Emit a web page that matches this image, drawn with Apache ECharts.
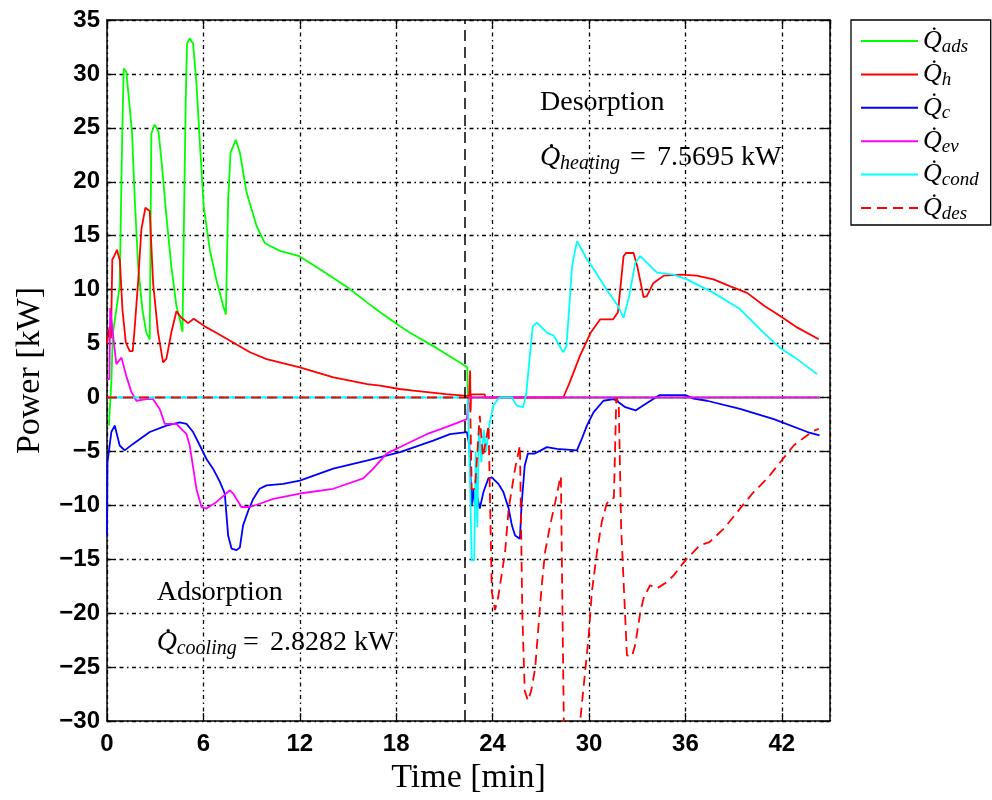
<!DOCTYPE html>
<html>
<head>
<meta charset="utf-8">
<script src="https://cdn.jsdelivr.net/npm/echarts@6/dist/echarts.min.js"></script>
<style>
  html, body { margin: 0; padding: 0; background: #fff; }
  #chart { width: 992px; height: 800px; }
</style>
</head>
<body>
<div id="chart"></div>
<script>
// Axis ranges (time in min, power in kW)
const timeRange = [0, 45];
const timeStep = 6;
const powerRange = [-30, 35];
const powerStep = 5;

// Switch from adsorption to desorption [min]
const switchTime = 22.25;

// Phase results
const coolingPower = '2.8282 kW';
const heatingPower = '7.5695 kW';

// Series names (subscripts of Q)
const seriesNames = ['ads', 'h', 'c', 'ev', 'cond', 'des'];

// Q_ads  [time, kW]
const qAds = [[0.12,-2.6],[0.2,-2.6],[0.27,1.4],[0.37,6.0],[0.48,6.0],[0.79,10.3],[0.94,23.9],[1.04,30.5],[1.2,30.2],[1.37,27.6],[1.56,24.5],[1.73,18.3],[1.94,12.2],[2.2,8.2],[2.45,6.0],[2.66,5.4],[2.76,24.5],[2.97,25.3],[3.2,24.7],[3.39,22.0],[3.7,16.8],[4.0,12.2],[4.32,8.5],[4.53,7.25],[4.7,6.1],[4.78,15.3],[4.9,27.6],[4.98,32.8],[5.15,33.3],[5.36,32.8],[5.57,29.1],[5.78,23.6],[6.02,17.7],[6.4,13.7],[6.8,10.95],[7.23,8.5],[7.4,7.7],[7.54,18.3],[7.69,22.7],[8.02,23.9],[8.27,22.7],[8.69,19.0],[9.31,15.9],[9.83,14.3],[10.76,13.6],[11.96,13.1],[13.25,11.9],[14.9,10.3],[16.2,8.8],[17.0,7.9],[18.24,6.6],[18.86,6.0],[20.5,4.6],[22.43,2.8],[22.47,0.0],[44.35,0.0]];

// Q_h
const qH = [[0,5.0],[0.15,6.5],[0.25,5.5],[0.33,12.8],[0.45,13.1],[0.62,13.7],[0.8,12.7],[0.96,8.2],[1.17,5.1],[1.41,4.3],[1.6,4.3],[1.7,6.0],[1.93,10.6],[2.14,15.6],[2.39,17.6],[2.66,17.3],[2.87,10.6],[3.18,6.0],[3.49,3.25],[3.7,3.6],[4.0,6.0],[4.32,8.0],[4.63,7.4],[5.05,6.9],[5.4,7.3],[6.19,6.5],[6.8,6.0],[7.85,5.1],[8.9,4.2],[9.93,3.56],[12.0,2.8],[14.1,1.87],[16.2,1.25],[17.0,1.1],[18.2,0.79],[19.07,0.63],[21.1,0.32],[22.4,0.15],[22.55,0.2],[22.6,2.5],[22.63,-1.2],[22.66,0.3],[23.5,0.3],[23.55,0],[28.4,0],[28.8,1.4],[29.45,3.9],[30.1,6.0],[30.7,7.25],[31.5,7.25],[31.8,7.9],[32.15,13.1],[32.3,13.4],[32.77,13.4],[33.0,12.2],[33.4,9.3],[33.6,9.4],[34.0,10.6],[34.65,11.3],[35.7,11.4],[36.7,11.3],[37.75,10.95],[38.8,10.3],[39.84,9.7],[40.9,8.5],[41.9,7.56],[42.95,6.5],[44.3,5.4]];

// Q_c
const qC = [[0,-12.8],[0.03,-6.0],[0.27,-3.2],[0.48,-2.6],[0.6,-2.7],[0.79,-4.45],[1.1,-4.9],[1.62,-4.3],[2.66,-3.2],[3.7,-2.6],[4.53,-2.3],[4.95,-2.45],[5.36,-3.2],[5.78,-4.45],[6.19,-5.7],[6.6,-6.6],[7.02,-7.8],[7.33,-8.9],[7.54,-12.8],[7.75,-14.0],[8.06,-14.15],[8.27,-13.9],[8.47,-11.85],[8.79,-10.5],[9.1,-9.4],[9.5,-8.46],[9.93,-8.15],[10.97,-8.0],[12.0,-7.7],[14.08,-6.6],[16.16,-5.84],[18.24,-5.07],[20.3,-4.0],[21.35,-3.4],[22.4,-3.2],[22.55,-4.4],[22.65,-8.2],[22.7,-10.0],[22.8,-8.5],[22.9,-10.0],[23.0,-8.8],[23.2,-10.3],[23.43,-8.76],[23.74,-7.5],[23.95,-7.4],[24.36,-8.0],[24.67,-8.76],[25.0,-10.3],[25.2,-11.85],[25.4,-12.8],[25.7,-13.1],[25.8,-10.0],[26.0,-6.3],[26.2,-5.2],[26.6,-5.2],[27.0,-4.9],[27.38,-4.6],[28.0,-4.76],[29.25,-4.9],[29.56,-3.8],[29.87,-2.6],[30.28,-1.37],[30.9,-0.3],[31.53,-0.14],[31.8,-0.4],[32.26,-0.9],[32.9,-1.2],[33.2,-0.9],[34.0,-0.14],[34.4,0.23],[36.0,0.23],[36.5,-0.1],[37.35,-0.3],[39.4,-1.06],[41.5,-2.0],[43.6,-3.2],[44.35,-3.5]];

// Q_ev
const qEv = [[0,1.7],[0.15,1.7],[0.2,8.3],[0.3,8.3],[0.4,5.5],[0.58,3.1],[0.9,3.7],[1.2,2.0],[1.52,0.5],[1.83,-0.3],[2.45,-0.15],[2.87,-0.15],[3.28,-1.06],[3.6,-2.45],[4.32,-2.45],[4.95,-3.4],[5.15,-4.45],[5.57,-8.5],[5.88,-10.15],[6.19,-10.3],[6.8,-9.7],[7.65,-8.6],[7.85,-8.9],[8.37,-10.15],[8.9,-10.15],[9.5,-9.85],[10.35,-9.4],[12.0,-8.9],[14.08,-8.46],[15.95,-7.5],[16.57,-6.6],[17.4,-5.2],[18.86,-4.15],[19.9,-3.4],[21.35,-2.6],[22.4,-2.0],[22.5,0],[44.35,0]];

// Q_cond
const qCond = [[0,0],[22.45,0],[22.6,-8],[22.7,-15.1],[22.85,-15.1],[22.95,-5],[23.05,-12],[23.15,-2.6],[23.3,-6],[23.45,-3],[23.6,-5],[23.8,-2.5],[24.05,-0.75],[24.36,-0.1],[24.5,0],[25.2,0],[25.5,-0.75],[25.9,-0.9],[26.1,0.4],[26.3,3.6],[26.5,6.6],[26.75,6.95],[27.4,6.0],[27.8,5.75],[28.4,4.2],[28.6,4.8],[28.95,12.2],[29.25,14.5],[29.45,14.0],[29.87,12.8],[30.3,11.9],[31.1,10.0],[31.8,8.5],[32.15,7.4],[32.5,9.4],[32.88,12.5],[33.2,13.1],[33.6,12.5],[34.23,11.57],[35.26,11.4],[36.1,10.95],[37.75,9.7],[39.4,8.2],[40.87,6.0],[41.9,4.6],[42.95,3.56],[44.2,2.17]];

// Q_des
const qDes = [[0,0],[22.45,0],[22.6,0],[22.7,-8.5],[22.9,-8.5],[23.2,-1.7],[23.4,-5.5],[23.75,-2.6],[23.95,-18],[24.15,-19.7],[24.35,-18.5],[24.78,-14.3],[25.0,-10.3],[25.4,-6.6],[25.7,-4.45],[25.85,-20],[26.0,-27.2],[26.2,-28.1],[26.4,-27.2],[26.65,-25.1],[26.86,-21.1],[27.06,-17.4],[27.27,-14.3],[27.58,-11.85],[27.9,-9.7],[28.16,-7.8],[28.25,-7.3],[28.35,-20],[28.45,-32],[29.3,-32],[29.45,-30],[29.66,-26.9],[29.97,-22.3],[30.18,-18],[30.5,-14.3],[30.8,-11.5],[31.1,-9.85],[31.33,-9.4],[31.55,-9.3],[31.7,0],[31.85,-0.5],[32.0,-12],[32.36,-23.9],[32.67,-24],[32.88,-22.9],[33.2,-19.85],[33.4,-18.6],[33.8,-17.4],[34.23,-17.7],[34.85,-17.1],[35.26,-16.5],[36.0,-15.1],[36.9,-13.7],[37.5,-13.4],[38.4,-12.15],[39.4,-10.3],[40.25,-8.76],[41.1,-7.5],[41.9,-6.0],[42.74,-4.45],[43.4,-3.7],[44.0,-3.07],[44.3,-2.9]];

const seriesData = [qAds, qH, qC, qEv, qCond, qDes];
const seriesColors = ['#00ff00', '#ff0000', '#0000ff', '#ff00ff', '#00ffff', '#ff0000'];

const SERIF = '"Liberation Serif", "Times New Roman", serif';
const SANS = '"Liberation Sans", Arial, sans-serif';

const chart = echarts.init(document.getElementById('chart'), null, { renderer: 'canvas' });

const gridLine = { show: true, lineStyle: { color: '#000', width: 1.3, type: [4, 3.5, 1.5, 3.5] } };
const frameLine = { show: true, onZero: false, lineStyle: { color: '#000', width: 1.5 } };
const innerTick = { show: true, inside: true, length: 8, lineStyle: { color: '#000', width: 1.3 } };
const minus = v => String(v).replace('-', '\u2212');

// Text placed by its alphabetic baseline
function txt(x, baseline, text, size, italic) {
  return {
    type: 'text', x: x, y: baseline - 0.3375 * size, silent: true,
    style: {
      text: text, fill: '#000', align: 'left', verticalAlign: 'middle',
      font: (italic ? 'italic ' : '') + size + 'px ' + SERIF
    }
  };
}

// Q with a dot accent, italic subscript, '=' and value
function qDotLabel(x, baseline, sub, value, eqX, valX) {
  return [
    txt(x, baseline, 'Q', 28, true),
    { type: 'circle', silent: true, shape: { cx: x + 11.5, cy: baseline - 21, r: 1.7 }, style: { fill: '#000' } },
    txt(x + 20, baseline + 3.5, sub, 20, true),
    txt(eqX, baseline, '=', 28, false),
    txt(valX, baseline, value, 28, false)
  ];
}

const graphics = [
  txt(540, 111.7, 'Desorption', 28, false),
  ...qDotLabel(540, 166.7, 'heating', heatingPower, 630, 657),
  txt(156.7, 601.7, 'Adsorption', 28, false),
  ...qDotLabel(156.7, 651.7, 'cooling', coolingPower, 243, 270)
];

const series = seriesNames.map((name, i) => {
  const s = {
    name: name,
    type: 'line',
    data: seriesData[i],
    symbol: 'none',
    showSymbol: false,
    clip: true,
    animation: false,
    silent: true,
    lineStyle: { color: seriesColors[i], width: 1.8, type: name === 'des' ? [10, 6] : 'solid' },
    itemStyle: { color: seriesColors[i] }
  };
  if (name === 'des') {
    s.markLine = {
      silent: true,
      symbol: ['none', 'none'],
      label: { show: false },
      lineStyle: { color: '#000', width: 1.5, type: [11, 6] },
      data: [{ xAxis: switchTime }]
    };
  }
  return s;
});

const option = {
  backgroundColor: '#fff',
  animation: false,
  grid: { left: 107, top: 20, width: 723, height: 703, containLabel: false },
  xAxis: [
    {
      type: 'value', min: timeRange[0], max: timeRange[1], interval: timeStep,
      position: 'bottom',
      name: 'Time [min]', nameLocation: 'middle', nameGap: 38,
      nameTextStyle: { fontFamily: SERIF, fontSize: 34, color: '#000' },
      axisLine: frameLine, axisTick: innerTick, splitLine: gridLine,
      axisLabel: { show: true, showMaxLabel: false, margin: 11, color: '#000', fontFamily: SANS, fontSize: 24, fontWeight: 'bold', formatter: minus }
    },
    {
      type: 'value', min: timeRange[0], max: timeRange[1], interval: timeStep,
      position: 'top', axisLine: frameLine, axisTick: innerTick,
      splitLine: { show: false }, axisLabel: { show: false }
    }
  ],
  yAxis: [
    {
      type: 'value', min: powerRange[0], max: powerRange[1], interval: powerStep,
      position: 'left',
      name: 'Power [kW]', nameLocation: 'middle', nameGap: 60,
      nameTextStyle: { fontFamily: SERIF, fontSize: 34, color: '#000' },
      axisLine: frameLine, axisTick: innerTick, splitLine: gridLine,
      axisLabel: { show: true, margin: 7, color: '#000', fontFamily: SANS, fontSize: 24, fontWeight: 'bold', formatter: minus }
    },
    {
      type: 'value', min: powerRange[0], max: powerRange[1], interval: powerStep,
      position: 'right', axisLine: frameLine, axisTick: innerTick,
      splitLine: { show: false }, axisLabel: { show: false }
    }
  ],
  legend: {
    orient: 'vertical', left: 851, top: 20,
    padding: [8, 12, 2, 9], itemGap: 5.4, itemWidth: 57, itemHeight: 14,
    borderColor: '#000', borderWidth: 1.3, backgroundColor: '#fff',
    selectedMode: false,
    itemStyle: { opacity: 0 },
    data: seriesNames,
    formatter: n => '{q|Q\u0307}{s|' + n + '}',
    textStyle: {
      color: '#000',
      rich: {
        q: { fontFamily: SERIF, fontStyle: 'italic', fontSize: 26, lineHeight: 30, color: '#000' },
        s: { fontFamily: SERIF, fontStyle: 'italic', fontSize: 19, lineHeight: 16, verticalAlign: 'bottom', color: '#000' }
      }
    }
  },
  graphic: graphics,
  series: series
};

chart.setOption(option);
</script>
</body>
</html>
